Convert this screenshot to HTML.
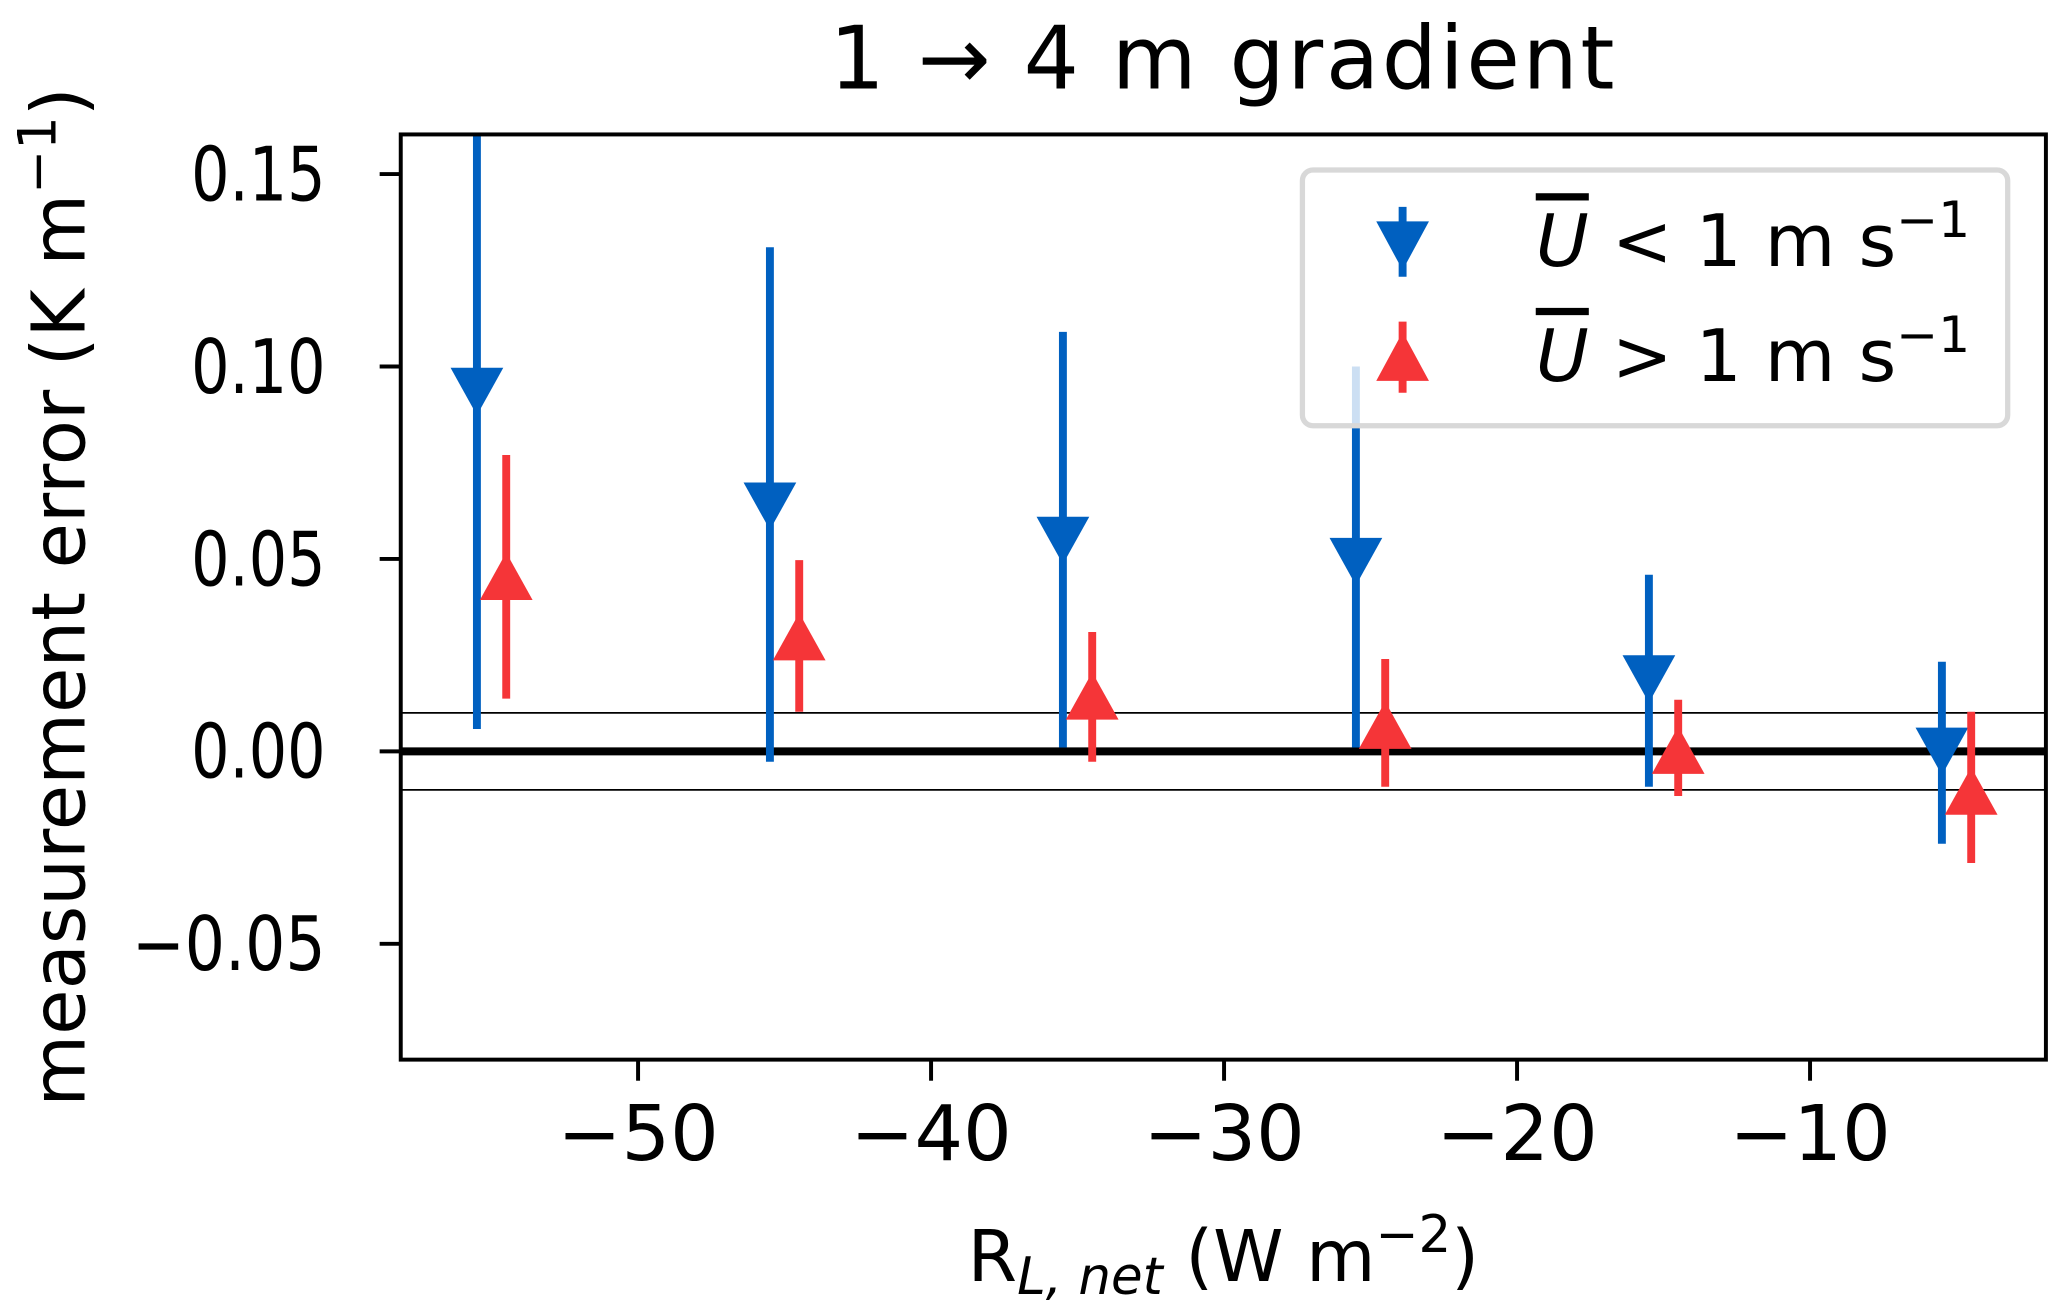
<!DOCTYPE html>
<html><head><meta charset="utf-8"><style>
html,body{margin:0;padding:0;background:#fff;}
svg{display:block;font-family:"DejaVu Sans","Liberation Sans",sans-serif;}
</style></head><body>
<svg id="chart" width="2067" height="1314" viewBox="0 0 1568 997" preserveAspectRatio="none" xmlns="http://www.w3.org/2000/svg">
<text x="928" y="67" font-size="66" letter-spacing="2" text-anchor="middle">1 → 4 m gradient</text>
<g id="plot"></g>
<text transform="translate(64,453) rotate(-90)" font-size="56" text-anchor="middle">measurement error (K m<tspan dy="-22" font-size="40">−1</tspan><tspan dy="22">)</tspan></text>
<text x="928" y="972" font-size="54" text-anchor="middle">R<tspan dy="10" font-size="39" font-style="italic">L, net</tspan><tspan dy="-10"> (W m</tspan><tspan dy="-22" font-size="39">−2</tspan><tspan dy="22">)</tspan></text>
<g>
<rect x="988" y="129" width="535" height="194" rx="8" fill="#fff" fill-opacity="0.8" stroke="#d8d8d8" stroke-width="4"/>
<g>
<line x1="1064" y1="157" x2="1064" y2="210" stroke="#0060c0" stroke-width="6"/>
<polygon points="1044,168 1084,168 1064,205" fill="#0060c0"/>
<text x="1165" y="202" font-size="55"><tspan font-style="italic" text-decoration="overline">U</tspan> &lt; 1 m s<tspan dy="-22" font-size="38">−1</tspan></text>
</g>
<g>
<line x1="1064" y1="244" x2="1064" y2="298" stroke="#f53538" stroke-width="6"/>
<polygon points="1044,289 1084,289 1064,252" fill="#f53538"/>
<text x="1165" y="289" font-size="55"><tspan font-style="italic" text-decoration="overline">U</tspan> &gt; 1 m s<tspan dy="-22" font-size="38">−1</tspan></text>
</g>
</g>
</svg>
<script>
const blueX = [-55.5, -45.5, -35.5, -25.5, -15.5, -5.5];
const blueY = [0.0935, 0.0637, 0.0548, 0.0493, 0.0188, 0.0];
const blueHi = [0.18, 0.131, 0.109, 0.100, 0.0459, 0.0233];
const blueLo = [0.0058, -0.0027, 0.001, 0.001, -0.0092, -0.024];
const redX = [-54.5, -44.5, -34.5, -24.5, -14.5, -4.5];
const redY = [0.0455, 0.0298, 0.0144, 0.0068, 0.0003, -0.0103];
const redHi = [0.077, 0.0497, 0.031, 0.024, 0.0134, 0.0103];
const redLo = [0.0137, 0.0103, -0.0027, -0.0092, -0.0116, -0.029];
const xTicks = [-50, -40, -30, -20, -10];
const xTickLabels = ["−50", "−40", "−30", "−20", "−10"];
const yTicks = [0.15, 0.10, 0.05, 0.00, -0.05];
const yTickLabels = ["0.15", "0.10", "0.05", "0.00", "−0.05"];
const refLines = [0.01, -0.01];

const L = 304, R = 1552, T = 102, B = 804;
const xmin = -58.1, xmax = -1.95, ymin = -0.0801, ymax = 0.1603;
const sx = v => L + (v - xmin) / (xmax - xmin) * (R - L);
const sy = v => B - (v - ymin) / (ymax - ymin) * (B - T);
const NS = "http://www.w3.org/2000/svg";
const plot = document.getElementById('plot');
function mk(tag, attrs, parent) {
  const e = document.createElementNS(NS, tag);
  for (const k in attrs) e.setAttribute(k, attrs[k]);
  (parent || plot).appendChild(e);
  return e;
}
const defs = mk('defs', {});
const cp = mk('clipPath', {id: 'clip'}, defs);
mk('rect', {x: L, y: T, width: R - L, height: B - T}, cp);
const inner = mk('g', {'clip-path': 'url(#clip)'});



refLines.forEach(v => {
  const l = mk('line', {x1: L, x2: R, y1: sy(v), y2: sy(v), stroke: '#000', 'stroke-width': 1.3}, inner);
  
  
});
const zl = mk('line', {x1: L, x2: R, y1: sy(0), y2: sy(0), stroke: '#000', 'stroke-width': 6}, inner);



function series(xs, ys, his, los, color, down, name) {
  xs.forEach((x, i) => {
    const g = mk('g', {}, inner);
    
    
    const cx = sx(x), cy = sy(ys[i]);
    mk('line', {x1: cx, x2: cx, y1: sy(his[i]), y2: sy(los[i]), stroke: color, 'stroke-width': 6}, g);
    const w = 20, h = 18;
    const pts = down
      ? `${cx - w},${cy - h} ${cx + w},${cy - h} ${cx},${cy + h}`
      : `${cx - w},${cy + h} ${cx + w},${cy + h} ${cx},${cy - h}`;
    mk('polygon', {points: pts, fill: color}, g);
  });
}
series(blueX, blueY, blueHi, blueLo, '#0060c0', true, 'low-wind');
series(redX, redY, redHi, redLo, '#f53538', false, 'high-wind');

const frame = mk('rect', {x: L, y: T, width: R - L, height: B - T, fill: 'none', stroke: '#000', 'stroke-width': 3});



xTicks.forEach((v, i) => {
  const x = sx(v);
  const t = mk('line', {x1: x, x2: x, y1: B, y2: B + 16, stroke: '#000', 'stroke-width': 3});
  
  
  const tx = mk('text', {x: x, y: B + 76, 'font-size': 58, 'text-anchor': 'middle'});
  tx.textContent = xTickLabels[i];
  
  
});
yTicks.forEach((v, i) => {
  const y = sy(v);
  const t = mk('line', {x1: L - 16, x2: L, y1: y, y2: y, stroke: '#000', 'stroke-width': 3});
  
  
  const label = yTickLabels[i];
  const len = label.length > 4 ? 147 : 102;
  const tx = mk('text', {x: 247 - len, y: y + 20, 'font-size': 57, textLength: len, lengthAdjust: 'spacingAndGlyphs'});
  tx.textContent = label;
  
  
});
</script>
</body></html>
